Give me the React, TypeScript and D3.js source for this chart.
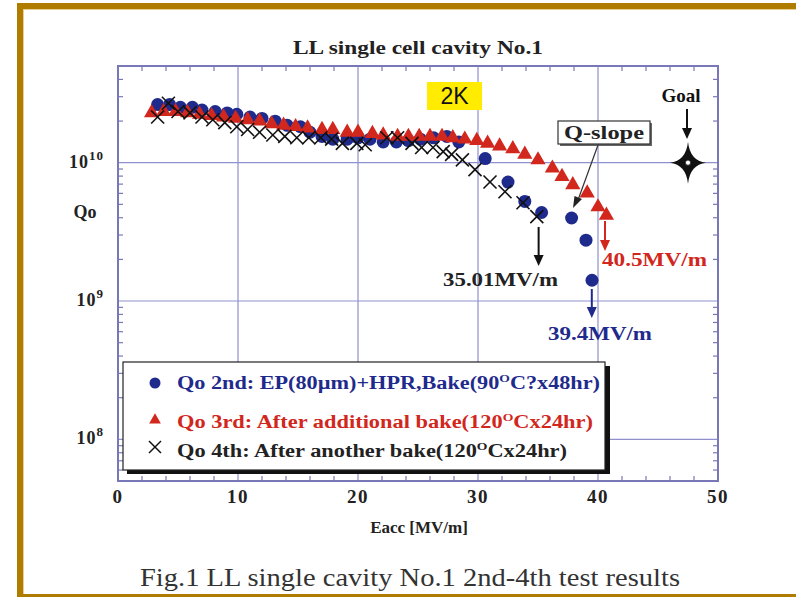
import React from "react";
import * as d3 from "d3";

// ---- data ----
const e2nd = [3.3, 4.3, 5.2, 6.2, 7.0, 8.1, 9.1, 9.9, 11.0, 12.0, 13.1, 14.1, 15.2, 16.0, 17.0, 17.9, 19.1, 20.0, 21.0, 22.1, 23.2, 24.2, 25.2, 26.3, 27.4, 28.4, 30.6, 32.5, 33.9, 35.3, 37.8, 39.0, 39.5];
const logQ2nd = [10.42, 10.42, 10.40, 10.40, 10.38, 10.37, 10.36, 10.35, 10.33, 10.32, 10.30, 10.27, 10.26, 10.22, 10.19, 10.17, 10.17, 10.18, 10.17, 10.15, 10.15, 10.16, 10.17, 10.18, 10.19, 10.15, 10.03, 9.86, 9.72, 9.64, 9.60, 9.44, 9.15];

const e3rd = [2.8, 3.8, 4.8, 5.8, 6.8, 7.8, 8.8, 9.8, 10.8, 11.8, 12.8, 13.8, 14.8, 15.8, 17.0, 17.9, 19.1, 20.0, 21.2, 22.1, 23.3, 24.2, 25.1, 26.0, 27.0, 27.9, 28.9, 29.9, 30.8, 31.8, 32.9, 33.9, 35.0, 36.2, 37.0, 37.9, 39.1, 40.0, 40.7];
const logQ3rd = [10.36, 10.37, 10.37, 10.36, 10.35, 10.34, 10.33, 10.32, 10.31, 10.30, 10.28, 10.27, 10.26, 10.25, 10.24, 10.24, 10.22, 10.22, 10.21, 10.20, 10.19, 10.19, 10.19, 10.19, 10.19, 10.18, 10.17, 10.16, 10.14, 10.12, 10.10, 10.06, 10.02, 9.96, 9.90, 9.84, 9.78, 9.68, 9.62];

const e4th = [3.3, 4.2, 5.0, 6.0, 7.0, 7.9, 8.9, 9.9, 10.8, 11.8, 12.9, 13.9, 14.9, 15.9, 16.9, 17.8, 18.7, 19.9, 20.6, 22.4, 23.3, 24.5, 25.3, 26.25, 27.1, 27.8, 28.7, 29.75, 31.0, 32.25, 33.75, 34.9];
const logQ4th = [10.33, 10.43, 10.37, 10.36, 10.33, 10.31, 10.29, 10.26, 10.24, 10.22, 10.20, 10.19, 10.18, 10.18, 10.18, 10.17, 10.14, 10.14, 10.13, 10.18, 10.18, 10.14, 10.11, 10.11, 10.08, 10.06, 10.02, 9.95, 9.86, 9.79, 9.71, 9.61];

const xTicks = [0, 10, 20, 30, 40, 50];
const yDecades = [8, 9, 10];
const legendLabels = [
  ["Qo 2nd: EP(80µm)+HPR,Bake(90", "O", "C?x48hr)"],
  ["Qo 3rd: After additional bake(120", "O", "Cx24hr)"],
  ["Qo 4th: After another bake(120", "O", "Cx24hr)"],
];
const goalE = 47.5;
const goalQ = 1e10;
const limit2nd = 39.4;
const limit3rd = 40.5;
const limit4th = 35.01;

const BLUE = "#1f2b8c";
const RED = "#d1271d";
const FRAME = "#7878b8";
const GRID = "#9090cf";
const SERIF = '"Liberation Serif", Tinos, "Times New Roman", Times, serif';

export default function App() {
  const x = d3.scaleLinear().domain([0, 50]).range([118, 718]);
  const y = d3.scaleLog().domain([5e7, 5e10]).range([481, 66]);
  const [x0, x1] = x.range();
  const [yb, yt] = y.range();

  const minorY: number[] = [];
  for (let d = 7; d <= 10; d++) {
    for (let k = 2; k <= 9; k++) {
      const v = k * Math.pow(10, d);
      if (v > 5e7 && v < 5e10) minorY.push(v);
    }
  }
  const minorX = d3.range(2, 50, 2).filter((v) => v % 10 !== 0);

  const tri = d3.symbol().type(d3.symbolTriangle).size(100)() as string;
  const triLeg = d3.symbol().type(d3.symbolTriangle).size(60)() as string;

  const arrow = (ax: number, y0: number, y1: number, color: string) => (
    <g>
      <line x1={ax} y1={y0} x2={ax} y2={y1 - 9} stroke={color} strokeWidth={2} />
      <path d={`M${ax - 5},${y1 - 11} L${ax + 5},${y1 - 11} L${ax},${y1} Z`} fill={color} />
    </g>
  );

  const cross = (cx: number, cy: number, s: number, key?: any, w = 1.6) => (
    <g key={key}>
      <line x1={cx - s} y1={cy - s} x2={cx + s} y2={cy + s} stroke="#111" strokeWidth={w} />
      <line x1={cx - s} y1={cy + s} x2={cx + s} y2={cy - s} stroke="#111" strokeWidth={w} />
    </g>
  );

  const gx = x(goalE);
  const gy = y(goalQ);

  return (
    <svg width={796} height={597} style={{ position: "fixed", left: 0, top: 0, background: "#fff", fontFamily: SERIF }}>
      {/* outer gold frame */}
      <rect x={0} y={0} width={796} height={597} fill="#fff" />
      <rect x={17} y={3} width={779} height={6} fill="#b07c00" />
      <rect x={17} y={3} width={6} height={594} fill="#b07c00" />
      <rect x={17} y={594} width={779} height={3} fill="#b07c00" />
      <line x1={23.5} y1={9} x2={23.5} y2={594} stroke="#e8cf90" strokeWidth={1} />
      <line x1={23} y1={9.5} x2={796} y2={9.5} stroke="#e8cf90" strokeWidth={1} />

      {/* title */}
      <text x={418} y={54} textAnchor="middle" fontSize={19} fontWeight="bold" fill="#222" textLength={250} lengthAdjust="spacingAndGlyphs">
        LL single cell cavity No.1
      </text>

      {/* grid */}
      {xTicks.slice(1, -1).map((t) => (
        <line key={"gx" + t} x1={x(t)} x2={x(t)} y1={yt} y2={yb} stroke={GRID} strokeWidth={1.2} />
      ))}
      {yDecades.map((d) => (
        <line key={"gy" + d} x1={x0} x2={x1} y1={y(Math.pow(10, d))} y2={y(Math.pow(10, d))} stroke={GRID} strokeWidth={1.2} />
      ))}

      {/* ticks */}
      {minorY.map((v) => (
        <g key={"my" + v}>
          <line x1={x0} x2={x0 + 5} y1={y(v)} y2={y(v)} stroke={FRAME} strokeWidth={1.2} />
          <line x1={x1} x2={x1 - 5} y1={y(v)} y2={y(v)} stroke={FRAME} strokeWidth={1.2} />
        </g>
      ))}
      {minorX.map((v) => (
        <g key={"mx" + v}>
          <line x1={x(v)} x2={x(v)} y1={yb} y2={yb - 5} stroke={FRAME} strokeWidth={1.2} />
          <line x1={x(v)} x2={x(v)} y1={yt} y2={yt + 5} stroke={FRAME} strokeWidth={1.2} />
        </g>
      ))}
      <rect x={x0} y={yt} width={x1 - x0} height={yb - yt} fill="none" stroke={FRAME} strokeWidth={2} />

      {/* x tick labels */}
      {xTicks.map((t) => (
        <text key={"xl" + t} x={x(t)} y={503} textAnchor="middle" fontSize={19} fontWeight="bold" fill="#222" letterSpacing={1.5}>
          {t}
        </text>
      ))}
      <text x={419} y={533} textAnchor="middle" fontSize={17} fontWeight="bold" fill="#222">
        Eacc [MV/m]
      </text>

      {/* y tick labels */}
      {yDecades.map((d) => (
        <text key={"yl" + d} x={104} y={y(Math.pow(10, d)) + 5} textAnchor="end" fontSize={18} fontWeight="bold" fill="#222" letterSpacing={1}>
          10<tspan dy={-8} fontSize={13}>{d}</tspan>
        </text>
      ))}
      <text x={85} y={218} textAnchor="middle" fontSize={18} fontWeight="bold" fill="#222">
        Qo
      </text>

      {/* data: 2nd */}
      {e2nd.map((e, i) => (
        <circle key={"b" + i} cx={x(e)} cy={y(Math.pow(10, logQ2nd[i]))} r={6.5} fill={BLUE} />
      ))}
      {/* data: 3rd */}
      {e3rd.map((e, i) => (
        <path key={"r" + i} d={tri} transform={`translate(${x(e)},${y(Math.pow(10, logQ3rd[i]))})`} fill={RED} />
      ))}
      {/* data: 4th */}
      {e4th.map((e, i) => cross(x(e), y(Math.pow(10, logQ4th[i])), 6.5, "k" + i, 1.6))}

      {/* 2K label */}
      <rect x={427} y={82} width={55} height={28} fill="#ffec00" />
      <text x={454.5} y={104} textAnchor="middle" fontSize={23} fontFamily="'Liberation Sans', Arial, sans-serif" fill="#111">
        2K
      </text>

      {/* Goal */}
      <text x={681} y={102} textAnchor="middle" fontSize={19} fontWeight="bold" fill="#111">
        Goal
      </text>
      {arrow(gx - 1, 109, 139, "#111")}
      <path
        d={`M${gx},${gy - 21} Q${gx + 2},${gy - 2} ${gx + 18},${gy} Q${gx + 2},${gy + 2} ${gx},${gy + 21} Q${gx - 2},${gy + 2} ${gx - 18},${gy} Q${gx - 2},${gy - 2} ${gx},${gy - 21} Z`}
        fill="#111"
      />
      <circle cx={gx} cy={gy} r={2.6} fill="#fff" stroke="#111" strokeWidth={0.8} />

      {/* Q-slope */}
      <rect x={560} y={123} width={92} height={23} fill="#666" />
      <rect x={558} y={121} width={92} height={23} fill="#fff" stroke="#333" strokeWidth={1.2} />
      <text x={604} y={139} textAnchor="middle" fontSize={19} fontWeight="bold" fill="#222" textLength={80} lengthAdjust="spacingAndGlyphs">
        Q-slope
      </text>
      <line x1={598} y1={145} x2={578} y2={200} stroke="#333" strokeWidth={1.2} />
      <path d="M573,208 L574.5,196 L582,199 Z" fill="#222" />

      {/* limit arrows and labels */}
      {arrow(x(limit4th) + 0.5, 227, 266, "#111")}
      <text x={443} y={286} fontSize={19} fontWeight="bold" fill="#222" textLength={115} lengthAdjust="spacingAndGlyphs">
        35.01MV/m
      </text>
      {arrow(x(limit3rd) + 1, 221, 251, RED)}
      <text x={602} y={266} fontSize={19} fontWeight="bold" fill={RED} textLength={105} lengthAdjust="spacingAndGlyphs">
        40.5MV/m
      </text>
      {arrow(x(limit2nd) + 1, 289, 318, BLUE)}
      <text x={548} y={340} fontSize={19} fontWeight="bold" fill={BLUE} textLength={104} lengthAdjust="spacingAndGlyphs">
        39.4MV/m
      </text>

      {/* legend */}
      <rect x={127} y={366} width={483} height={108} fill="#111" />
      <rect x={123} y={362} width={482} height={108} fill="#fff" stroke="#222" strokeWidth={1.2} />
      <circle cx={155} cy={383} r={5.5} fill={BLUE} />
      <path d={triLeg} transform="translate(155,420)" fill={RED} />
      {cross(155, 447, 6, "lk", 1.5)}
      {legendLabels.map((lab, i) => {
        const colors = [BLUE, RED, "#222"];
        const ys = [389, 428, 457];
        const lens = [423, 416, 390];
        return (
          <text key={"leg" + i} x={177} y={ys[i]} fontSize={18} fontWeight="bold" fill={colors[i]} textLength={lens[i]} lengthAdjust="spacingAndGlyphs">
            {lab[0]}
            <tspan dy={-7} fontSize={11}>{lab[1]}</tspan>
            <tspan dy={7}>{lab[2]}</tspan>
          </text>
        );
      })}

      {/* caption */}
      <text x={410} y={586} textAnchor="middle" fontSize={25} fill="#333" textLength={540} lengthAdjust="spacingAndGlyphs">
        Fig.1  LL single cavity No.1  2nd-4th test results
      </text>
    </svg>
  );
}
